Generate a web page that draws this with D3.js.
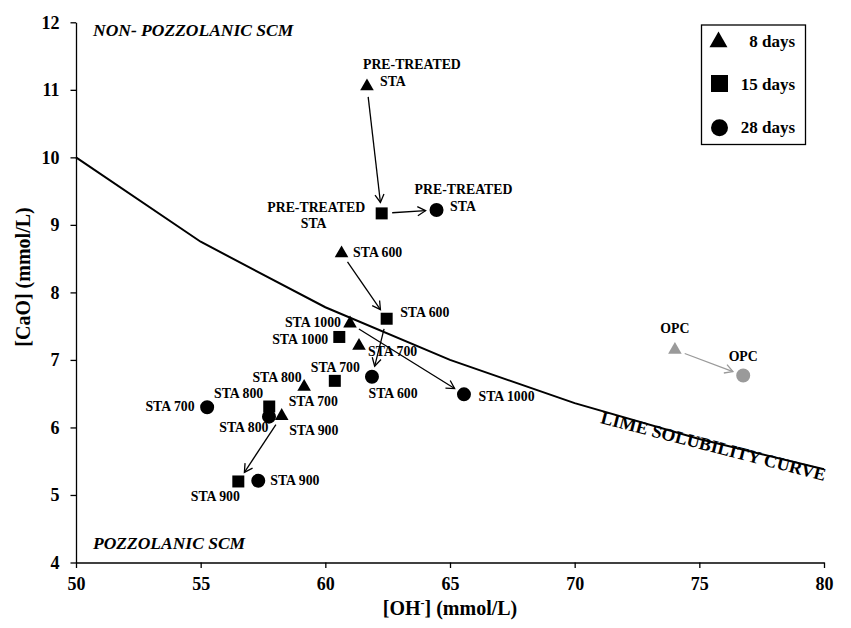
<!DOCTYPE html>
<html>
<head>
<meta charset="utf-8">
<script src="https://cdn.jsdelivr.net/npm/d3@7"></script>
<style>
  html, body { margin: 0; padding: 0; background: #fff; }
  svg { display: block; font-family: "Liberation Serif", "Times New Roman", serif; }
</style>
</head>
<body>
<svg id="chart" width="851" height="628"></svg>
<script>
// ---- data ----
const seriesNames = ["8 days", "15 days", "28 days"];
const samples = ["PRE-TREATED STA", "STA 600", "STA 1000", "STA 700", "STA 800", "STA 900", "OPC"];

// [OH-] (mmol/L) and [CaO] (mmol/L) per curing age, in the order of `samples`
const oh8   = [61.67, 60.65, 60.99, 61.35, 59.15, 58.25, 74.02];
const cao8  = [11.05, 8.58, 7.54, 7.21, 6.60, 6.17, 7.15];
const oh15  = [62.26, 62.46, 60.56, 60.38, 57.75, 56.51, null];
const cao15 = [9.17, 7.61, 7.34, 6.69, 6.31, 5.20, null];
const oh28  = [64.46, 61.87, 65.56, 55.26, 57.74, 57.31, 76.76];
const cao28 = [9.22, 6.75, 6.49, 6.30, 6.16, 5.21, 6.77];

// lime solubility curve
const curveOH  = [50, 55, 60, 65, 70, 75, 80];
const curveCaO = [10, 8.75, 7.78, 7.0, 6.36, 5.83, 5.38];

const xTicks = [50, 55, 60, 65, 70, 75, 80];
const yTicks = [4, 5, 6, 7, 8, 9, 10, 11, 12];

// evolution arrows: [from series, to series, sample]
const arrows = [
  [0, 1, "PRE-TREATED STA"],
  [1, 2, "PRE-TREATED STA"],
  [0, 1, "STA 600"],
  [1, 2, "STA 600"],
  [0, 2, "STA 1000"],
  [0, 1, "STA 900"],
  [0, 2, "OPC"]
];

// ---- layout ----
const W = 851, H = 628;
const M = { left: 76, right: 27, top: 22.3, bottom: 65.5 };
const svg = d3.select("#chart");

const x = d3.scaleLinear().domain([50, 80]).range([M.left, W - M.right]);
const y = d3.scaleLinear().domain([4, 12]).range([H - M.bottom, M.top]);

const ohSets = [oh8, oh15, oh28];
const caoSets = [cao8, cao15, cao28];
const symbols = [d3.symbolTriangle, d3.symbolSquare, d3.symbolCircle];
const symbolSize = [80, 144, 154];
const legendSize = [140, 289, 227];
const grey = "#9a9a9a";

const points = [];
seriesNames.forEach((s, si) => {
  samples.forEach((name, i) => {
    const vx = ohSets[si][i], vy = caoSets[si][i];
    if (vx == null) return;
    points.push({ series: si, sample: name, ohv: vx, caov: vy });
  });
});
const findPt = (si, name) => points.find(p => p.series === si && p.sample === name);

// label placement relative to each marker: [text, dx, dy, anchor]
const labelLayout = {
  "0|PRE-TREATED STA": [["PRE-TREATED", -4, -17, "start"], ["STA", 13, -0.5, "start"]],
  "0|STA 600":  [["STA 600", 11.5, 3.5, "start"]],
  "0|STA 1000": [["STA 1000", -9, 3.5, "end"]],
  "0|STA 700":  [["STA 700", 9, 10.5, "start"]],
  "0|STA 800":  [["STA 800", -2.5, -5, "end"], ["STA 700", -15.5, 19.5, "start"]],
  "0|STA 900":  [["STA 900", 7.5, 19.5, "start"]],
  "0|OPC":      [["OPC", 0, -16.5, "middle"]],
  "1|PRE-TREATED STA": [["PRE-TREATED", -65.5, -1.5, "middle"], ["STA", -68, 15, "middle"]],
  "1|STA 600":  [["STA 600", 13.5, -1.5, "start"]],
  "1|STA 1000": [["STA 1000", -11, 7.5, "end"]],
  "1|STA 700":  [["STA 700", 0.5, -8.5, "middle"]],
  "1|STA 800":  [["STA 800", -6, -8.5, "end"]],
  "1|STA 900":  [["STA 900", -23, 20, "middle"]],
  "2|PRE-TREATED STA": [["PRE-TREATED", 27, -16, "middle"], ["STA", 26.5, 1, "middle"]],
  "2|STA 600":  [["STA 600", -3.5, 21.5, "start"]],
  "2|STA 1000": [["STA 1000", 14.5, 6.5, "start"]],
  "2|STA 700":  [["STA 700", -12.5, 4, "end"]],
  "2|STA 800":  [["STA 800", -0.5, 15, "end"]],
  "2|STA 900":  [["STA 900", 12, 4.5, "start"]],
  "2|OPC":      [["OPC", 0, -14.5, "middle"]]
};

// ---- axes ----
const xAxis = d3.axisBottom(x).tickValues(xTicks).tickSize(5.5).tickSizeOuter(0).tickPadding(9);
const yAxis = d3.axisLeft(y).tickValues(yTicks).tickSize(5.5).tickSizeOuter(0).tickPadding(11);

const gx = svg.append("g").attr("transform", `translate(0,${H - M.bottom})`).call(xAxis);
const gy = svg.append("g").attr("transform", `translate(${M.left},0)`).call(yAxis);
[gx, gy].forEach(g => {
  g.select(".domain").attr("stroke", "#000").attr("stroke-width", 1.3);
  g.selectAll(".tick line").attr("stroke", "#000").attr("stroke-width", 1.3);
  g.selectAll(".tick text")
    .attr("font-family", "Liberation Serif, serif")
    .attr("font-weight", "bold")
    .attr("font-size", 18)
    .attr("fill", "#000");
});

// axis titles
svg.append("text")
  .attr("transform", `translate(30,277) rotate(-90)`)
  .attr("text-anchor", "middle")
  .attr("font-weight", "bold").attr("font-size", 20)
  .text("[CaO] (mmol/L)");

const xt = svg.append("text")
  .attr("x", 450).attr("y", 615)
  .attr("text-anchor", "middle")
  .attr("font-weight", "bold").attr("font-size", 20);
xt.append("tspan").text("[OH");
xt.append("tspan").attr("dy", -8).attr("font-size", 12).text("-");
xt.append("tspan").attr("dy", 8).text("] (mmol/L)");

// region captions
svg.append("text")
  .attr("x", 93).attr("y", 36)
  .attr("font-weight", "bold").attr("font-style", "italic").attr("font-size", 17.5)
  .text("NON- POZZOLANIC SCM");
svg.append("text")
  .attr("x", 93).attr("y", 549)
  .attr("font-weight", "bold").attr("font-style", "italic").attr("font-size", 17.5)
  .text("POZZOLANIC SCM");

// ---- lime solubility curve ----
const curveData = curveOH.map((v, i) => [v, curveCaO[i]]);
svg.append("path")
  .datum(curveData)
  .attr("fill", "none").attr("stroke", "#000").attr("stroke-width", 2)
  .attr("d", d3.line().x(d => x(d[0])).y(d => y(d[1])));

svg.append("text")
  .attr("transform", `translate(712,452) rotate(14.5)`)
  .attr("text-anchor", "middle")
  .attr("font-weight", "bold").attr("font-size", 18)
  .text("LIME SOLUBILITY CURVE");

// ---- arrows ----
const defs = svg.append("defs");
[["arrBlack", "#000"], ["arrGrey", grey]].forEach(([id, col]) => {
  defs.append("marker")
    .attr("id", id).attr("viewBox", "-10 -6 12 12")
    .attr("refX", 0).attr("refY", 0)
    .attr("markerWidth", 12).attr("markerHeight", 12)
    .attr("markerUnits", "userSpaceOnUse")
    .attr("orient", "auto")
    .append("path")
    .attr("d", "M-8,-4.5 L0,0 L-8,4.5")
    .attr("fill", "none").attr("stroke", col).attr("stroke-width", 1.3);
});

arrows.forEach(([a, b, name]) => {
  const p = findPt(a, name), q = findPt(b, name);
  const x1 = x(p.ohv), y1 = y(p.caov), x2 = x(q.ohv), y2 = y(q.caov);
  const len = Math.hypot(x2 - x1, y2 - y1);
  const ux = (x2 - x1) / len, uy = (y2 - y1) / len;
  const g0 = 10.5, g1 = 11;
  const col = name === "OPC" ? grey : "#000";
  svg.append("line")
    .attr("x1", x1 + ux * g0).attr("y1", y1 + uy * g0)
    .attr("x2", x2 - ux * g1).attr("y2", y2 - uy * g1)
    .attr("stroke", col).attr("stroke-width", 1.3)
    .attr("marker-end", `url(#${name === "OPC" ? "arrGrey" : "arrBlack"})`);
});

// ---- markers ----
svg.append("g").selectAll("path")
  .data(points)
  .join("path")
  .attr("transform", d => `translate(${x(d.ohv)},${y(d.caov)})`)
  .attr("d", d => d3.symbol().type(symbols[d.series]).size(symbolSize[d.series])())
  .attr("fill", d => d.sample === "OPC" ? grey : "#000");

// ---- point labels ----
const lg = svg.append("g").attr("font-weight", "bold").attr("font-size", 13.8);
points.forEach(p => {
  const lay = labelLayout[`${p.series}|${p.sample}`] || [];
  lay.forEach(([t, dx, dy, anchor]) => {
    lg.append("text")
      .attr("x", x(p.ohv) + dx).attr("y", y(p.caov) + dy)
      .attr("text-anchor", anchor)
      .attr("fill", "#000")
      .text(t);
  });
});

// ---- legend ----
const leg = svg.append("g");
leg.append("rect")
  .attr("x", 701.5).attr("y", 25).attr("width", 104).attr("height", 119.5)
  .attr("fill", "#fff").attr("stroke", "#000").attr("stroke-width", 1.3);
const legPos = [[718.5, 42, 46.7], [719.5, 83.5, 90], [719.5, 127.7, 132.7]];
seriesNames.forEach((s, i) => {
  leg.append("path")
    .attr("transform", `translate(${legPos[i][0]},${legPos[i][1]})`)
    .attr("d", d3.symbol().type(symbols[i]).size(legendSize[i])())
    .attr("fill", "#000");
  leg.append("text")
    .attr("x", 795).attr("y", legPos[i][2])
    .attr("text-anchor", "end")
    .attr("font-weight", "bold").attr("font-size", 17)
    .text(s);
});
</script>
</body>
</html>
